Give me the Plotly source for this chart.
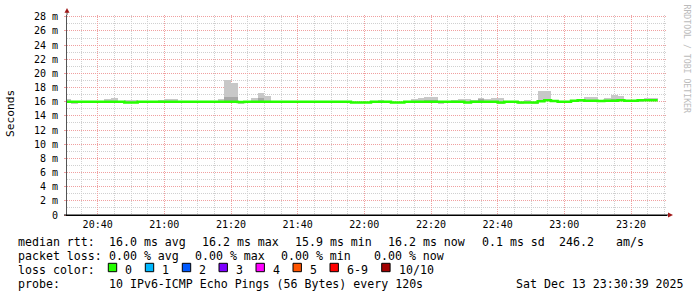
import plotly.graph_objects as go
import pandas as pd

# ---------------- data ----------------
series_start = "2025-12-13 20:30:00"     # start of first 120 s step
step_minutes = 2

median_ms = [16.0, 16.0, 16.0, 16.0, 16.0, 16.0, 16.0, 16.0, 16.0,
             15.9, 15.9,
             16.0, 16.0, 16.0, 16.0, 16.0, 16.0, 16.0, 16.0, 16.0, 16.0, 16.0, 16.0, 16.0, 16.0, 16.0,
             15.95,
             16.0, 16.0, 16.0, 16.0, 16.0, 16.0, 16.0, 16.0, 16.0, 16.0, 16.0, 16.0, 16.0, 16.0, 16.0, 16.0,
             15.9, 15.9, 15.9,
             16.0, 16.0, 16.0,
             15.9, 15.9,
             16.0, 16.0, 16.0, 16.0, 16.0, 16.0, 16.0, 16.0, 16.0,
             15.9,
             16.0, 16.0, 16.0, 16.0,
             15.9,
             16.0, 16.0,
             15.9, 15.9, 15.9,
             16.05, 16.2, 16.1, 16.0, 16.0,
             16.15, 16.2, 16.15, 16.15, 16.1, 16.15, 16.15, 16.2, 16.15, 16.15, 16.2, 16.2, 16.2]

smoke_max = [16.4, 16.05, 16.05, 16.05, 16.05, 16.05, 16.4, 16.55, 16.1, 16.25,
             16.25, 16.05, 16.05, 16.05, 16.25, 16.4, 16.4, 16.05, 16.05, 16.05,
             16.05, 16.05, 16.05, 16.4, 19.0, 18.7, 16.0, 16.05, 16.55, 17.25,
             16.85, 16.05, 16.05, 16.05, 16.05, 16.05, 16.05, 16.05, 16.05, 16.05,
             16.05, 16.05, 16.05, 15.95, 15.95, 15.95, 16.05, 16.25, 16.05, 15.95,
             15.95, 16.05, 16.4, 16.55, 16.7, 16.7, 16.0, 16.05, 16.25, 16.4,
             16.4, 16.3, 16.55, 16.4, 16.55, 16.55, 16.05, 16.05, 15.95, 16.25,
             15.95, 17.5, 17.5, 16.2, 16.05, 16.05, 16.2, 16.25, 16.7, 16.7,
             16.25, 16.55, 17.0, 16.8, 16.25, 16.25, 16.25, 16.55, 16.55]

smoke_min = [15.8, 15.8, 15.95, 15.95, 15.95, 15.95, 15.95, 15.95, 15.95, 15.8,
             15.8, 15.95, 15.95, 15.95, 15.95, 15.95, 15.95, 15.95, 15.95, 15.95,
             15.95, 15.95, 15.95, 15.95, 15.95, 15.95, 15.75, 15.95, 15.95, 15.95,
             15.95, 15.95, 15.95, 15.95, 15.95, 15.95, 15.95, 15.95, 15.95, 15.95,
             15.85, 15.85, 15.85, 15.85, 15.85, 15.85, 15.95, 15.95, 15.95, 15.85,
             15.85, 15.95, 15.95, 15.95, 15.95, 15.95, 15.75, 15.95, 15.95, 15.95,
             15.8, 15.95, 15.95, 15.95, 15.95, 15.75, 15.95, 15.95, 15.8, 15.8,
             15.8, 15.95, 16.05, 16.0, 15.9, 15.9, 16.05, 16.1, 16.05, 16.05,
             16.0, 16.05, 16.05, 16.1, 16.05, 16.05, 16.1, 16.1, 16.1]

dark_idx = [24, 25, 29, 54, 55, 62, 82]
dark_lo = [16.05, 16.05, 16.05, 16.05, 16.05, 16.05, 16.1]
dark_hi = [16.65, 16.6, 16.5, 16.25, 16.25, 16.4, 16.35]

x_range = ["2025-12-13 20:30:48", "2025-12-13 23:30:48"]
x_tick0 = "2025-12-13 20:40:00"
y_tickvals = [0, 2, 4, 6, 8, 10, 12, 14, 16, 18, 20, 22, 24, 26, 28]
y_ticktext = ["0"] + [f"{v} m" for v in y_tickvals[1:]]

stat_line1 = [("median rtt:", 16), ("16.0 ms avg", 107), ("16.2 ms max", 200),
              ("15.9 ms min", 293), ("16.2 ms now", 386), ("0.1 ms sd", 480),
              ("246.2", 557), ("am/s", 614)]
stat_line2 = [("packet loss:", 16), ("0.00 % avg", 107), ("0.00 % max", 193),
              ("0.00 % min", 279), ("0.00 % now", 372)]
loss_labels = ["0", "1", "2", "3", "4", "5", "6-9", "10/10"]
loss_colors = ["#26ff00", "#00b8ff", "#0059ff", "#7e00ff", "#ff00ff", "#ff5500", "#ff0000", "#a10000"]
loss_box_x = [108.3, 145.3, 182.3, 219.0, 256.0, 293.0, 330.0, 381.7]
probe_text = "10 IPv6-ICMP Echo Pings (56 Bytes) every 120s"
date_text = "Sat Dec 13 23:30:39 2025"

# ---------------- geometry helpers (pixels -> paper) ----------------
L, R, T, B = 67, 667, 15, 215
W, H = 697, 297
def px(X):
    return (X - L) / (R - L)
def py(Y):
    return (B - Y) / (B - T)

start = pd.Timestamp(series_start)
step = pd.Timedelta(minutes=step_minutes)
n = len(median_ms)
t_start = [start + i * step for i in range(n)]
t_mid = [t + step / 2 for t in t_start]
step_ms = step_minutes * 60 * 1000

fig = go.Figure()

# smoke (outer)
fig.add_trace(go.Bar(
    x=t_mid, y=[mx - mn for mx, mn in zip(smoke_max, smoke_min)], base=smoke_min,
    width=step_ms, marker=dict(color="#c8c8c8", line=dict(width=0)),
    hoverinfo="skip", showlegend=False))
# smoke (inner, darker)
fig.add_trace(go.Bar(
    x=[t_mid[i] for i in dark_idx], y=[h - l for h, l in zip(dark_hi, dark_lo)], base=dark_lo,
    width=step_ms, marker=dict(color="#a8a8a8", line=dict(width=0)),
    hoverinfo="skip", showlegend=False))
# median line
fig.add_trace(go.Scatter(
    x=t_start + [t_start[-1] + step], y=median_ms + [median_ms[-1]],
    mode="lines", line=dict(color=loss_colors[0], width=2.5, shape="hv"),
    hoverinfo="skip", showlegend=False))

grid_major = "#f0a0a0"
grid_minor = "#d0d0d0"
dash = "1px,1px"

fig.update_layout(
    width=W, height=H,
    margin=dict(l=L, r=W - R, t=T, b=H - B, pad=0),
    paper_bgcolor="#ffffff", plot_bgcolor="#ffffff",
    barmode="overlay", bargap=0,
    font=dict(family="DejaVu Sans Mono", size=10, color="#000000"),
    xaxis=dict(
        type="date", range=x_range, tick0=x_tick0, dtick=20 * 60 * 1000,
        tickformat="%H:%M", showgrid=True, gridcolor=grid_major, griddash=dash, gridwidth=1,
        minor=dict(dtick=5 * 60 * 1000, tick0=x_tick0, showgrid=True, gridcolor=grid_minor,
                   griddash=dash),
        ticks="",
        showline=True, linecolor="#000000", linewidth=1, zeroline=False,
        tickfont=dict(family="DejaVu Sans Mono", size=10, color="#000000"),
        ticklabelstandoff=0, fixedrange=True),
    yaxis=dict(
        range=[0, 28.25], tickvals=y_tickvals, ticktext=y_ticktext,
        showgrid=True, gridcolor=grid_major, griddash=dash, gridwidth=1,
        minor=dict(dtick=1, showgrid=True, gridcolor=grid_minor, griddash=dash),
        ticks="outside", ticklen=2, tickcolor=grid_major,
        showline=True, linecolor="#555555", linewidth=1, zeroline=False,
        tickfont=dict(family="DejaVu Sans Mono", size=10, color="#000000"),
        ticklabelstandoff=4, fixedrange=True),
)

shapes = []
arrow_col = "#a01818"
# y-axis arrow
shapes.append(dict(type="line", xref="paper", yref="paper", x0=0, x1=0, y0=1, y1=py(11),
                   line=dict(color="#555555", width=1)))
shapes.append(dict(type="path", xref="paper", yref="paper",
                   path=f"M {px(64.5)},{py(12.8)} L {px(69.5)},{py(12.8)} L {px(67)},{py(8)} Z",
                   fillcolor=arrow_col, line=dict(color=arrow_col, width=0)))
# x-axis arrow
shapes.append(dict(type="line", xref="paper", yref="paper", x0=px(64), x1=px(669), y0=0, y1=0,
                   line=dict(color="#000000", width=1)))
shapes.append(dict(type="path", xref="paper", yref="paper",
                   path=f"M {px(668)},{py(212.5)} L {px(668)},{py(217.5)} L {px(673)},{py(215)} Z",
                   fillcolor=arrow_col, line=dict(color=arrow_col, width=0)))
# loss color boxes
for bx, col in zip(loss_box_x, loss_colors):
    shapes.append(dict(type="rect", xref="paper", yref="paper",
                       x0=px(bx), x1=px(bx + 8.4), y0=py(263.3), y1=py(271.7),
                       fillcolor=col, line=dict(color="#000000", width=1)))
fig.update_layout(shapes=shapes)

ann = []
lf = dict(family="DejaVu Sans Mono", size=11.6, color="#000000")
def text_at(s, X, Y, **kw):
    d = dict(text=s, xref="paper", yref="paper", x=px(X), y=py(Y), xanchor="left",
             yanchor="middle", showarrow=False, font=lf)
    d.update(kw)
    ann.append(d)

for s, X in stat_line1:
    text_at(s, X, 241.5)
for s, X in stat_line2:
    text_at(s, X, 255.5)
text_at("loss color:", 16, 269.5)
for bx, lab in zip(loss_box_x, loss_labels):
    text_at(lab, bx + 14.8, 269.5)
text_at("probe:", 16, 283.5)
text_at(probe_text, 107, 283.5)
text_at(date_text, 513.5, 283.5)

# axis title
ann.append(dict(text="Seconds", xref="paper", yref="paper", x=px(10.5), y=py(113.5),
                xanchor="center", yanchor="middle", textangle=-90, showarrow=False,
                font=dict(family="DejaVu Sans Mono", size=11.2, color="#000000")))
# watermark
ann.append(dict(text="RRDTOOL / TOBI OETIKER", xref="paper", yref="paper", x=px(686.5), y=py(59),
                xanchor="center", yanchor="middle", textangle=90, showarrow=False,
                font=dict(family="DejaVu Sans Mono", size=8.2, color="#bbbbbb")))
fig.update_layout(annotations=ann)

fig.write_html("out.html")
